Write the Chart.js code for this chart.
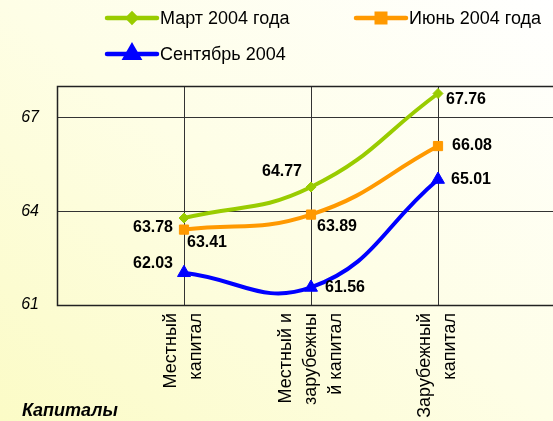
<!DOCTYPE html>
<html>
<head>
<meta charset="utf-8">
<script src="https://cdn.jsdelivr.net/npm/chart.js@4/dist/chart.umd.min.js"></script>
<style>
  html, body { margin: 0; padding: 0; overflow: hidden; }
  body {
    width: 553px; height: 421px;
    background: linear-gradient(to top right, #fbfbc6 0%, #fefee6 50%, #ffffff 100%);
  }
  canvas { display: block; }
</style>
</head>
<body>
<canvas id="capChart" width="564" height="421"></canvas>
<script>
// chart data
const categories = [['Местный', 'капитал'], ['Местный и', 'зарубежны', 'й капитал'], ['Зарубежный', 'капитал']];
const seriesNames = ['Март 2004 года', 'Июнь 2004 года', 'Сентябрь 2004'];
const march = [63.78, 64.77, 67.76];
const june = [63.41, 63.89, 66.08];
const september = [62.03, 61.56, 65.01];
const yTicks = [61, 64, 67];
const xTitle = 'Капиталы';

// where each value label sits relative to its point
const labelOffsets = [
    [[-31, 10], [-29, -15], [28, 6]],
    [[23, 13], [26, 12], [34, 0]],
    [[-31, -9], [34, 0], [33, 0]]
];
// legend item positions (line start x, y)
const legendPos = [[107, 18], [356, 18], [107, 54]];
const xLineHeight = 25;
const xStep = 127; // px between categories

const toPoints = arr => arr.map((v, i) => ({ x: i + 1, y: v }));

// fix category spacing once the plot width is known
const xSpacing = {
    id: 'xSpacing',
    afterLayout(chart) {
        const s = chart.scales.x;
        s.min = 0;
        s.max = (s.right - s.left) / xStep;
        s.configure();
    }
};

const framePlugin = {
    id: 'frame',
    beforeDatasetsDraw(chart) {
        const { ctx, chartArea: a } = chart;
        ctx.save();
        ctx.strokeStyle = '#222';
        ctx.lineWidth = 1.5;
        ctx.strokeRect(a.left + 0.5, a.top + 0.5, a.right - a.left, a.bottom - a.top);
        ctx.restore();
    }
};

// center multi-line rotated category labels on their gridline
const centerXLabels = {
    id: 'centerXLabels',
    beforeDraw(chart) {
        const items = chart.scales.x.getLabelItems();
        if (items._centered) return;
        items.forEach(it => {
            const n = Array.isArray(it.label) ? it.label.length : 1;
            it.options.translation[0] -= (n - 1) * xLineHeight / 2;
        });
        items._centered = true;
    }
};

const valueLabels = {
    id: 'valueLabels',
    afterDatasetsDraw(chart) {
        const ctx = chart.ctx;
        ctx.save();
        ctx.font = 'bold 16px Arial, "Liberation Sans"';
        ctx.fillStyle = '#000';
        ctx.textAlign = 'center';
        ctx.textBaseline = 'middle';
        chart.data.datasets.forEach((ds, di) => {
            chart.getDatasetMeta(di).data.forEach((pt, i) => {
                const off = labelOffsets[di][i];
                ctx.fillText(ds.data[i].y.toFixed(2), pt.x + off[0], pt.y + off[1]);
            });
        });
        ctx.restore();
    }
};

const customLegend = {
    id: 'customLegend',
    afterDraw(chart) {
        const ctx = chart.ctx;
        ctx.save();
        chart.data.datasets.forEach((ds, di) => {
            const [x, y] = legendPos[di];
            ctx.strokeStyle = ds.borderColor;
            ctx.lineWidth = 4.5;
            ctx.lineCap = 'round';
            ctx.beginPath();
            ctx.moveTo(x, y);
            ctx.lineTo(x + 50, y);
            ctx.stroke();
            ctx.fillStyle = ds.borderColor;
            ctx.strokeStyle = ds.borderColor;
            Chart.helpers.drawPoint(ctx, {
                pointStyle: ds.pointStyle, rotation: 0, borderWidth: 1,
                radius: ds.legendRadius
            }, x + 25, y);
            ctx.fillStyle = '#000';
            ctx.font = '18px Arial, "Liberation Sans"';
            ctx.textAlign = 'left';
            ctx.textBaseline = 'middle';
            ctx.fillText(ds.label, x + 53, y + 1);
        });
        // axis title
        ctx.font = 'bold italic 18px Arial, "Liberation Sans"';
        ctx.textAlign = 'left';
        ctx.textBaseline = 'middle';
        ctx.fillStyle = '#000';
        ctx.fillText(xTitle, 22, 411);
        ctx.restore();
    }
};

const common = { borderWidth: 4, tension: 0.45, fill: false, pointBorderWidth: 1 };

new Chart(document.getElementById('capChart'), {
    type: 'line',
    data: {
        datasets: [
            Object.assign({}, common, {
                label: seriesNames[0], data: toPoints(march),
                borderColor: '#99cc00', backgroundColor: '#99cc00',
                pointStyle: 'rectRot', pointRadius: 5, legendRadius: 4
            }),
            Object.assign({}, common, {
                label: seriesNames[1], data: toPoints(june),
                borderColor: '#ff9900', backgroundColor: '#ff9900',
                pointStyle: 'rect', pointRadius: 6.5, legendRadius: 6
            }),
            Object.assign({}, common, {
                label: seriesNames[2], data: toPoints(september),
                borderColor: '#0000ff', backgroundColor: '#0000ff',
                pointStyle: 'triangle', pointRadius: 7.5, legendRadius: 7.5
            })
        ]
    },
    options: {
        responsive: false,
        animation: false,
        layout: { padding: { top: 86, left: 0, right: 0, bottom: 0 } },
        plugins: {
            legend: { display: false },
            tooltip: { enabled: false }
        },
        scales: {
            x: {
                type: 'linear',
                min: 0,
                max: 4,
                afterBuildTicks: s => { s.ticks = categories.map((c, i) => ({ value: i + 1 })); },
                afterFit: s => { s.height = 116; s.paddingLeft = 0; s.paddingRight = 0; },
                border: { display: false },
                grid: { color: '#333', lineWidth: 1, drawTicks: false },
                ticks: {
                    minRotation: 90, maxRotation: 90, autoSkip: false,
                    padding: 8, color: '#000',
                    font: { family: 'Arial, "Liberation Sans"', size: 18, lineHeight: xLineHeight / 18 },
                    callback: v => categories[v - 1]
                }
            },
            y: {
                min: 61,
                max: 68,
                afterBuildTicks: s => { s.ticks = yTicks.map(v => ({ value: v })); },
                afterFit: s => { s.width = 57; s.paddingTop = 0; s.paddingBottom = 0; },
                border: { display: false },
                grid: { color: '#333', lineWidth: 1, drawTicks: false },
                ticks: {
                    padding: 18, color: '#000',
                    font: { family: 'Arial, "Liberation Sans"', size: 16, style: 'italic' }
                }
            }
        }
    },
    plugins: [xSpacing, framePlugin, centerXLabels, valueLabels, customLegend]
});
</script>
</body>
</html>
